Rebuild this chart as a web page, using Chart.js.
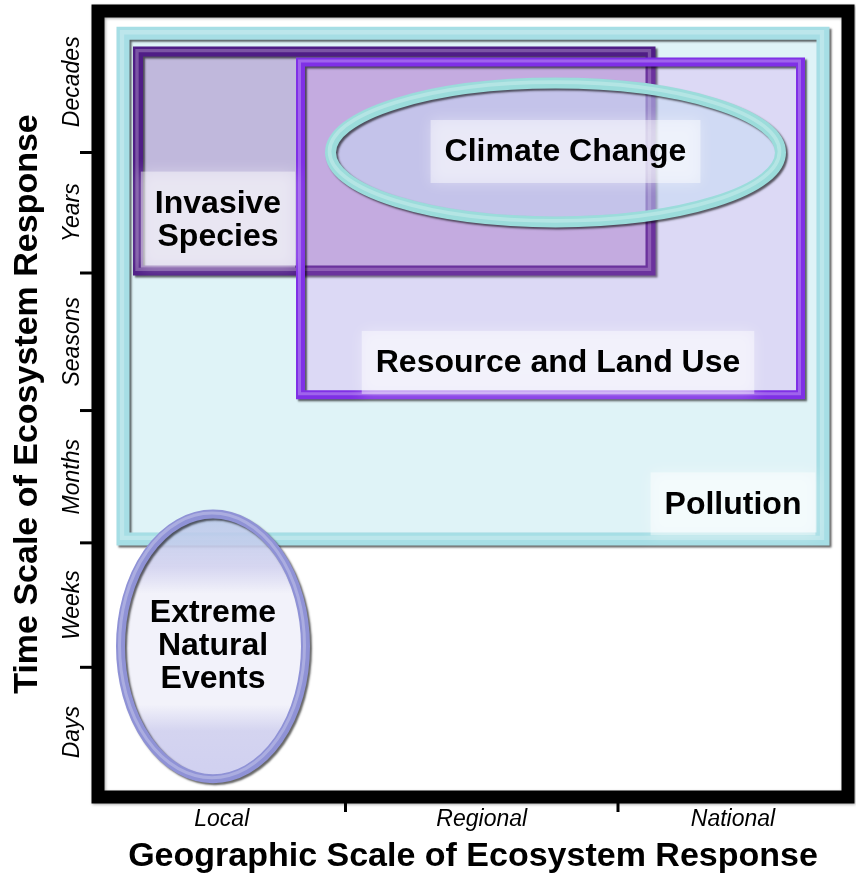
<!DOCTYPE html>
<html>
<head>
<meta charset="utf-8">
<script src="https://cdn.jsdelivr.net/npm/chart.js@4.4.1/dist/chart.umd.min.js"></script>
<style>
  html, body { margin: 0; padding: 0; background: #fff; }
  canvas { display: block; }
</style>
</head>
<body>
<canvas id="chart" width="856" height="887"></canvas>
<script>
// --- AXES (axis units: x 0..3, y 0..6) ---
const X_CATEGORIES = ['Local', 'Regional', 'National'];
const X_BOUNDS = [0, 0.99, 2.08, 3];
const Y_CATEGORIES = ['Days', 'Weeks', 'Months', 'Seasons', 'Years', 'Decades'];
const Y_BOUNDS = [0, 0.99, 1.94, 2.95, 4.0, 4.92, 6];
const X_TITLE = 'Geographic Scale of Ecosystem Response';
const Y_TITLE = 'Time Scale of Ecosystem Response';

// --- RECTANGLES (extent in axis units) ---
const RECT_NAMES = ['Pollution', 'Invasive Species', 'Resource and Land Use'];
const RECT_X0 = [0.10, 0.16, 0.81];
const RECT_X1 = [2.90, 2.21, 2.81];
const RECT_Y0 = [1.97, 4.02, 3.07];
const RECT_Y1 = [5.83, 5.69, 5.61];

// --- ELLIPSES (centre and radii in axis units) ---
const ELLIPSE_NAMES = ['Climate Change', 'Extreme Natural Events'];
const ELLIPSE_CX = [1.83, 0.46];
const ELLIPSE_CY = [4.92, 1.15];
const ELLIPSE_RX = [0.90, 0.37];
const ELLIPSE_RY = [0.53, 1.01];

// --- LABELS (centre in axis units) ---
const LABEL_TEXT = ['Pollution', 'Invasive\nSpecies', 'Resource and Land Use', 'Climate Change', 'Extreme\nNatural\nEvents'];
const LABEL_X = [2.54, 0.48, 1.84, 1.87, 0.46];
const LABEL_Y = [2.23, 4.40, 3.31, 4.92, 1.15];

const FONT = '"Liberation Sans", Arial, Helvetica, sans-serif';

function tubeStroke(ctx, drawPath, color, width) {
  ctx.save();
  ctx.shadowColor = 'rgba(0,0,0,0.6)';
  ctx.shadowOffsetX = 2;
  ctx.shadowOffsetY = 2;
  ctx.shadowBlur = 2;
  ctx.strokeStyle = color;
  ctx.lineWidth = width;
  ctx.lineJoin = 'miter';
  drawPath();
  ctx.stroke();
  ctx.restore();
  // soft highlight along the tube
  ctx.save();
  ctx.translate(-1, -1);
  ctx.strokeStyle = 'rgba(255,255,255,0.25)';
  ctx.lineWidth = width / 3;
  drawPath();
  ctx.stroke();
  ctx.restore();
}

function glowBox(ctx, x, y, w, h) {
  ctx.save();
  ctx.fillStyle = 'rgba(255,255,255,0.45)';
  ctx.shadowColor = 'rgba(255,255,255,0.8)';
  ctx.shadowBlur = 14;
  ctx.fillRect(x, y, w, h);
  ctx.restore();
}

function drawLabel(ctx, i, px, py, withBox) {
  const lines = LABEL_TEXT[i].split('\n');
  const lineH = 33;
  ctx.save();
  ctx.font = 'bold 32px ' + FONT;
  const w = Math.max(...lines.map(l => ctx.measureText(l).width));
  const h = lines.length * lineH;
  if (withBox) glowBox(ctx, px - w / 2 - 14, py - h / 2 - 16, w + 28, h + 30);
  ctx.fillStyle = '#000';
  ctx.textAlign = 'center';
  ctx.textBaseline = 'middle';
  lines.forEach((l, k) => {
    ctx.fillText(l, px, py - h / 2 + lineH * (k + 0.5));
  });
  ctx.restore();
}

const diagramPlugin = {
  id: 'diagram',
  afterDraw(chart) {
    const ctx = chart.ctx;
    const xs = chart.scales.x, ys = chart.scales.y;
    const a = chart.chartArea;
    const X = v => xs.getPixelForValue(v);
    const Y = v => ys.getPixelForValue(v);

    const rect = i => () => {
      ctx.beginPath();
      ctx.rect(X(RECT_X0[i]), Y(RECT_Y1[i]), X(RECT_X1[i]) - X(RECT_X0[i]), Y(RECT_Y0[i]) - Y(RECT_Y1[i]));
    };
    const ell = i => () => {
      ctx.beginPath();
      ctx.ellipse(X(ELLIPSE_CX[i]), Y(ELLIPSE_CY[i]),
        X(ELLIPSE_RX[i]) - X(0), Y(0) - Y(ELLIPSE_RY[i]), 0, 0, Math.PI * 2);
    };

    // Pollution
    rect(0)(); ctx.fillStyle = '#dff3f7'; ctx.fill();
    tubeStroke(ctx, rect(0), '#a6dee5', 13);

    // Invasive Species
    rect(1)(); ctx.fillStyle = '#c0b8dc'; ctx.fill();
    tubeStroke(ctx, rect(1), '#4f1d86', 10);

    // Resource and Land Use (semi transparent on top)
    rect(2)(); ctx.fillStyle = 'rgba(209,129,242,0.22)'; ctx.fill();
    tubeStroke(ctx, rect(2), '#7f30e6', 9);

    // Climate Change ellipse
    ell(0)(); ctx.fillStyle = 'rgba(196,220,244,0.5)'; ctx.fill();
    tubeStroke(ctx, ell(0), '#9bdcdb', 11);

    drawLabel(ctx, 0, X(LABEL_X[0]), Y(LABEL_Y[0]), true);
    drawLabel(ctx, 1, X(LABEL_X[1]), Y(LABEL_Y[1]), true);
    drawLabel(ctx, 2, X(LABEL_X[2]), Y(LABEL_Y[2]), true);
    drawLabel(ctx, 3, X(LABEL_X[3]), Y(LABEL_Y[3]), true);

    // Extreme Natural Events ellipse
    const top = Y(ELLIPSE_CY[1] + ELLIPSE_RY[1]), bot = Y(ELLIPSE_CY[1] - ELLIPSE_RY[1]);
    const g = ctx.createLinearGradient(0, top, 0, bot);
    g.addColorStop(0, 'rgba(180,196,232,0.8)');
    g.addColorStop(0.2, 'rgba(212,212,240,0.95)');
    g.addColorStop(0.3, 'rgba(242,242,250,1)');
    g.addColorStop(0.72, 'rgba(242,242,250,1)');
    g.addColorStop(0.82, 'rgba(212,212,240,1)');
    g.addColorStop(1, 'rgba(208,208,240,1)');
    ell(1)(); ctx.fillStyle = g; ctx.fill();
    tubeStroke(ctx, ell(1), '#8f92d6', 9);
    drawLabel(ctx, 4, X(LABEL_X[4]), Y(LABEL_Y[4]), false);

    // frame
    ctx.save();
    ctx.shadowColor = 'rgba(0,0,0,0.35)';
    ctx.shadowBlur = 3;
    ctx.shadowOffsetX = 1;
    ctx.shadowOffsetY = 1;
    ctx.strokeStyle = '#000';
    ctx.lineWidth = 13;
    ctx.lineJoin = 'miter';
    ctx.strokeRect(a.left, a.top, a.right - a.left, a.bottom - a.top);
    ctx.restore();

    // tick marks
    ctx.save();
    ctx.strokeStyle = '#000';
    ctx.lineWidth = 3;
    Y_BOUNDS.slice(1, -1).forEach(v => {
      ctx.beginPath();
      ctx.moveTo(a.left - 18, Y(v));
      ctx.lineTo(a.left - 6, Y(v));
      ctx.stroke();
    });
    X_BOUNDS.slice(1, -1).forEach(v => {
      ctx.beginPath();
      ctx.moveTo(X(v), a.bottom + 6);
      ctx.lineTo(X(v), a.bottom + 15);
      ctx.stroke();
    });
    ctx.restore();

    // tick labels
    ctx.save();
    ctx.fillStyle = '#000';
    ctx.font = 'italic 23px ' + FONT;
    ctx.textAlign = 'center';
    ctx.textBaseline = 'middle';
    X_CATEGORIES.forEach((c, i) => {
      ctx.fillText(c, X((X_BOUNDS[i] + X_BOUNDS[i + 1]) / 2), a.bottom + 23);
    });
    Y_CATEGORIES.forEach((c, i) => {
      ctx.save();
      ctx.translate(73, Y((Y_BOUNDS[i] + Y_BOUNDS[i + 1]) / 2));
      ctx.rotate(-Math.PI / 2);
      ctx.fillText(c, 0, 0);
      ctx.restore();
    });
    ctx.restore();

    // axis titles
    ctx.save();
    ctx.fillStyle = '#000';
    ctx.font = 'bold 34px ' + FONT;
    ctx.textAlign = 'center';
    ctx.textBaseline = 'middle';
    ctx.fillText(X_TITLE, (a.left + a.right) / 2, 857);
    ctx.translate(28, (a.top + a.bottom) / 2);
    ctx.rotate(-Math.PI / 2);
    ctx.fillText(Y_TITLE, 0, 0);
    ctx.restore();
  }
};

new Chart(document.getElementById('chart').getContext('2d'), {
  type: 'scatter',
  data: { datasets: [] },
  options: {
    responsive: false,
    animation: false,
    layout: { padding: { left: 98, top: 11, right: 8, bottom: 90 } },
    scales: {
      x: { type: 'linear', min: 0, max: 3, display: false },
      y: { type: 'linear', min: 0, max: 6, display: false }
    },
    plugins: { legend: { display: false }, tooltip: { enabled: false } }
  },
  plugins: [diagramPlugin]
});
</script>
</body>
</html>
